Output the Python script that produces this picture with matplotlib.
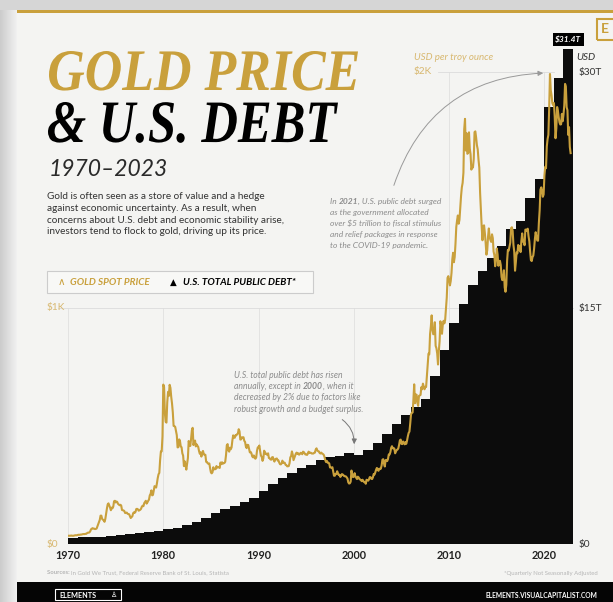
import matplotlib
matplotlib.use("Agg")
import matplotlib.pyplot as plt
import matplotlib.transforms as mtransforms
from matplotlib.patches import Rectangle, FancyArrowPatch, PathPatch
from matplotlib.textpath import TextPath
from matplotlib.font_manager import FontProperties
import numpy as np

# --- datos ---
# precio del oro, promedio mensual en USD por onza (1970 a oct-2022)
oro_mensual = [
    [35, 35, 35, 35, 36, 35, 35, 35, 36, 37, 37, 37],
    [38, 39, 39, 39, 40, 40, 41, 42, 42, 42, 43, 43],
    [46, 48, 48, 49, 54, 62, 65, 67, 65, 65, 63, 64],
    [65, 74, 84, 91, 102, 120, 120, 106, 103, 100, 94, 106],
    [129, 150, 168, 172, 163, 154, 143, 154, 151, 158, 181, 183],
    [176, 180, 178, 170, 167, 164, 166, 163, 144, 143, 142, 139],
    [131, 132, 133, 128, 127, 126, 118, 110, 114, 117, 130, 134],
    [132, 136, 148, 149, 147, 141, 143, 145, 149, 158, 162, 160],
    [173, 178, 183, 171, 176, 183, 188, 206, 212, 227, 206, 208],
    [227, 245, 242, 239, 257, 279, 295, 301, 355, 392, 392, 456],
    [675, 665, 554, 517, 514, 600, 644, 627, 674, 661, 623, 595],
    [557, 500, 499, 496, 479, 461, 409, 410, 443, 437, 413, 410],
    [384, 374, 330, 350, 334, 315, 339, 364, 436, 422, 415, 445],
    [481, 492, 419, 432, 438, 413, 422, 416, 411, 394, 382, 388],
    [370, 386, 394, 381, 377, 378, 348, 347, 341, 340, 341, 320],
    [303, 299, 304, 325, 316, 317, 317, 330, 323, 326, 325, 322],
    [345, 338, 346, 340, 342, 343, 348, 376, 418, 423, 396, 391],
    [408, 401, 409, 438, 460, 450, 450, 461, 460, 465, 468, 486],
    [477, 442, 443, 452, 451, 452, 437, 432, 413, 406, 420, 419],
    [404, 388, 390, 384, 371, 367, 375, 365, 361, 366, 394, 409],
    [410, 417, 393, 374, 369, 352, 362, 395, 389, 381, 382, 377],
    [384, 364, 363, 358, 357, 367, 368, 356, 349, 359, 361, 362],
    [354, 354, 345, 338, 337, 341, 353, 343, 345, 344, 335, 334],
    [329, 329, 330, 342, 367, 372, 392, 379, 355, 364, 374, 383],
    [387, 382, 384, 378, 381, 386, 385, 380, 391, 389, 384, 379],
    [379, 377, 382, 391, 385, 387, 386, 383, 383, 383, 386, 387],
    [400, 405, 396, 393, 392, 385, 383, 387, 383, 381, 378, 369],
    [355, 347, 352, 344, 344, 341, 324, 324, 323, 325, 306, 289],
    [289, 297, 296, 308, 299, 292, 293, 284, 289, 296, 294, 291],
    [287, 287, 286, 282, 277, 261, 256, 257, 264, 311, 293, 283],
    [285, 300, 286, 280, 275, 285, 282, 275, 273, 270, 266, 272],
    [266, 262, 263, 255, 272, 270, 268, 273, 283, 283, 276, 275],
    [282, 296, 294, 303, 314, 322, 314, 310, 319, 317, 319, 333],
    [357, 359, 340, 328, 355, 356, 351, 360, 379, 379, 389, 407],
    [414, 405, 406, 404, 384, 392, 398, 400, 405, 420, 439, 442],
    [424, 423, 434, 429, 422, 431, 424, 438, 456, 470, 476, 510],
    [549, 555, 557, 610, 676, 596, 633, 632, 598, 585, 627, 629],
    [631, 664, 655, 679, 667, 655, 665, 665, 712, 754, 806, 803],
    [889, 922, 968, 909, 888, 889, 939, 839, 829, 806, 760, 816],
    [858, 943, 924, 890, 928, 945, 934, 949, 996, 1043, 1127, 1134],
    [1118, 1095, 1113, 1148, 1205, 1233, 1193, 1215, 1271, 1342, 1370, 1391],
    [1356, 1372, 1424, 1473, 1510, 1529, 1572, 1756, 1800, 1666, 1739, 1652],
    [1656, 1743, 1674, 1650, 1585, 1596, 1594, 1630, 1744, 1747, 1721, 1688],
    [1671, 1627, 1593, 1487, 1414, 1343, 1286, 1347, 1349, 1316, 1275, 1225],
    [1244, 1300, 1336, 1299, 1287, 1279, 1311, 1295, 1238, 1222, 1176, 1200],
    [1251, 1227, 1178, 1198, 1199, 1181, 1131, 1117, 1125, 1159, 1086, 1068],
    [1097, 1199, 1245, 1242, 1260, 1276, 1337, 1341, 1326, 1266, 1238, 1157],
    [1192, 1234, 1231, 1266, 1246, 1260, 1236, 1283, 1315, 1280, 1283, 1265],
    [1331, 1331, 1325, 1335, 1303, 1282, 1238, 1202, 1198, 1215, 1221, 1250],
    [1291, 1320, 1300, 1285, 1284, 1359, 1413, 1500, 1510, 1495, 1470, 1480],
    [1560, 1597, 1591, 1683, 1715, 1732, 1846, 1990, 1921, 1900, 1866, 1858],
    [1867, 1808, 1718, 1760, 1850, 1834, 1807, 1785, 1776, 1777, 1821, 1790],
    [1817, 1856, 1948, 1937, 1849, 1837, 1732, 1765, 1681, 1655],
]

# deuda publica total de EEUU, en billones (trillions) de USD, por año
años_deuda = list(range(1970, 2023))
deuda = [0.389, 0.424, 0.449, 0.469, 0.492, 0.577, 0.653, 0.719, 0.789, 0.845,
         0.930, 1.028, 1.197, 1.410, 1.663, 1.945, 2.214, 2.431, 2.684, 2.953,
         3.365, 3.801, 4.177, 4.536, 4.801, 4.989, 5.323, 5.503, 5.614, 5.776,
         5.662, 5.943, 6.406, 6.998, 7.596, 8.170, 8.680, 9.229, 10.700, 12.311,
         14.025, 15.223, 16.433, 17.352, 18.141, 18.922, 19.977, 20.493, 21.974, 23.201,
         27.748, 29.617, 31.420]

decadas = [1970, 1980, 1990, 2000, 2010, 2020]
deuda_ticks = [0, 15, 30]
deuda_labels = ['$0', '$15T', '$30T']

ORO = '#c9a03c'
ORO_CLARO = '#d8b870'
FONDO = '#f4f4f2'
W, H = 613, 602

def fx(x):
    return x / W

def fy(y):
    return 1 - y / H

fig = plt.figure(figsize=(W / 100, H / 100), dpi=100)
fig.patch.set_facecolor(FONDO)

def rect(x, y, w, h, **kw):
    # rectangulo en pixeles (origen arriba a la izquierda)
    r = Rectangle((fx(x), fy(y + h)), w / W, h / H, transform=fig.transFigure, **kw)
    fig.add_artist(r)

# bordes de la captura (gris a la izquierda y arriba)
for i in range(17):
    g = 0.80 + 0.14 * i / 16
    rect(i, 0, 1.05, H, facecolor=(g, g, g), edgecolor='none', zorder=0)
rect(0, 0, W, 10, facecolor='#d6d6d6', edgecolor='none', zorder=0)
rect(17, 10, W, 3, facecolor=ORO, edgecolor='none', zorder=1)
rect(597, 19, 30, 21, facecolor='none', edgecolor=ORO, lw=1.5, zorder=1)
fig.text(fx(601), fy(29), 'E', color=ORO, fontsize=10, fontweight='bold', va='center',
         family='Lato')

# pie negro
rect(17, 582, W, 20, facecolor='#050505', edgecolor='none', zorder=1)
rect(55, 589, 66, 11, facecolor='none', edgecolor='white', lw=0.8, zorder=2)
fig.text(fx(59), fy(595), 'ELEMENTS', color='white', fontsize=5.2, fontweight='bold',
         va='center', family='Lato')
fig.text(fx(111), fy(595), '♙', color='white', fontsize=5, va='center', family='DejaVu Sans')
fig.text(fx(597), fy(595), 'ELEMENTS.VISUALCAPITALIST.COM', color='white', fontsize=4.8,
         fontweight='bold', va='center', ha='right', family='Lato')

# --- grafico ---
ax = fig.add_axes([fx(68), fy(544), fx(573) - fx(68), fy(48) - fy(544)])
ax.set_xlim(1970, 2023)
ax.set_ylim(0, 2100)
for s in ax.spines.values():
    s.set_visible(False)

ax2 = ax.twinx()
ax2.set_ylim(0, 31.5)
for s in ax2.spines.values():
    s.set_visible(False)

# grilla tenue (detras de la deuda)
for d in decadas:
    alto = 30 if d >= 2010 else 15
    ax2.plot([d, d], [0, alto], color='#e0e0e0', lw=0.6, zorder=1)
ax2.plot([1969, 2023], [15, 15], color='#dcdcdc', lw=0.6, zorder=1, clip_on=False)
ax2.plot([2008.8, 2021], [30, 30], color='#dcdcdc', lw=0.6, zorder=1)

bordes = años_deuda + [2023]
ax2.fill_between(bordes, deuda + [deuda[-1]], step='post', color='#0c0c0c', lw=0, zorder=2)

ax.set_zorder(ax2.get_zorder() + 1)
ax.patch.set_visible(False)

t_oro = []
v_oro = []
for i, fila in enumerate(oro_mensual):
    for m, v in enumerate(fila):
        t_oro.append(1970 + i + m / 12)
        v_oro.append(v)
ax.plot(t_oro, v_oro, color=ORO, lw=1.5, zorder=3, solid_joinstyle='round')

ax.set_xticks(decadas)
ax.set_xticklabels([str(d) for d in decadas], fontsize=7.8, fontweight='bold', color='#222222',
                   family='Lato')
ax.tick_params(axis='x', length=0, pad=4)
ax.set_yticks([])
ax2.set_yticks(deuda_ticks)
ax2.set_yticklabels(deuda_labels, fontsize=7.3, color='#333333', family='Lato')
ax2.tick_params(axis='y', length=0, pad=4)

izq = mtransforms.blended_transform_factory(fig.transFigure, ax.transData)
ax.text(fx(47), 1000, '$1K', transform=izq, color=ORO_CLARO, fontsize=7.3, va='center',
        family='Lato')
ax.text(fx(47), 0, '$0', transform=izq, color=ORO_CLARO, fontsize=7.3, va='center',
        family='Lato')
ax.text(2006.3, 2000, '$2K', color=ORO_CLARO, fontsize=7.3, va='center', family='Lato')
ax.text(2006.3, 2060, 'USD per troy ounce', color=ORO_CLARO, fontsize=7, va='center',
        style='italic', family='Lato')
ax2.text(2023.4, 30.9, 'USD', color='#333333', fontsize=7.3, va='center', style='italic',
         family='Lato')
ax2.text(2022.5, 31.8, '$31.4T', color='white', fontsize=6, fontweight='bold', style='italic',
         ha='center', va='bottom', family='Lato',
         bbox=dict(boxstyle='square,pad=0.3', fc='black', ec='none'))

# --- titulos (texto estirado para imitar la tipografia angosta) ---
fp_titulo = FontProperties(family='Liberation Serif', weight='bold', style='italic')

def titulo(s, x0, x1, arriba, base, color):
    tp = TextPath((0, 0), s, size=100, prop=fp_titulo)
    bb = tp.get_extents()
    sx = (x1 - x0) / bb.width
    sy = (base - arriba) / bb.y1
    tr = mtransforms.Affine2D().translate(-bb.x0, 0).scale(sx, sy).translate(x0, H - base)
    fig.add_artist(PathPatch(tp, transform=tr, facecolor=color, edgecolor='none', zorder=3))

titulo('GOLD PRICE', 49, 358, 51, 90, ORO)
titulo('& U.S. DEBT', 48, 338, 102, 142, 'black')
fig.text(fx(49), fy(176), '1970–2023', color='#2a2a2a', fontsize=16.5, style='italic',
         family='Lato')

fig.text(fx(47), fy(192), 'Gold is often seen as a store of value and a hedge\n'
         'against economic uncertainty. As a result, when\n'
         'concerns about U.S. debt and economic stability arise,\n'
         'investors tend to flock to gold, driving up its price.',
         color='#333333', fontsize=7.2, va='top', linespacing=1.4, family='Lato')

fig.canvas.draw()
rend = fig.canvas.get_renderer()

def renglon(x, y, partes, **kw):
    for s, w in partes:
        t = fig.text(x, y, s, fontweight=w, **kw)
        bb = t.get_window_extent(rend)
        x = bb.x1 / fig.bbox.width

gris = dict(color='#8c8c8c', fontsize=6.0, style='italic', family='Lato', va='center')
lineas_2021 = [[('In ', 'normal'), ('2021', 'bold'), (', U.S. public debt surged', 'normal')],
               [('as the government allocated', 'normal')],
               [('over $5 trillion to fiscal stimulus', 'normal')],
               [('and relief packages in response', 'normal')],
               [('to the COVID-19 pandemic.', 'normal')]]
for i, l in enumerate(lineas_2021):
    renglon(fx(330), fy(201 + 11 * i), l, **gris)

gris2 = dict(gris, fontsize=6.2)
lineas_2000 = [[('U.S. total public debt has risen', 'normal')],
               [('annually, except in ', 'normal'), ('2000', 'bold'), (', when it', 'normal')],
               [('decreased by 2% due to factors like', 'normal')],
               [('robust growth and a budget surplus.', 'normal')]]
for i, l in enumerate(lineas_2000):
    renglon(fx(234), fy(375 + 11.5 * i), l, **gris2)

# leyenda
rect(47, 271, 266, 22, facecolor='#f8f8f6', edgecolor='#cccccc', lw=0.8, zorder=1)
fig.text(fx(58), fy(282), '∧', color=ORO, fontsize=7.5, va='center', family=['Lato', 'DejaVu Sans'])
fig.text(fx(70), fy(282), 'GOLD SPOT PRICE', color=ORO, fontsize=7.1, fontweight='bold',
         style='italic', va='center', family='Lato')
fig.text(fx(170), fy(282), '▲', color='black', fontsize=6.3, va='center', family='DejaVu Sans')
fig.text(fx(183), fy(282), 'U.S. TOTAL PUBLIC DEBT*', color='black', fontsize=7.1,
         fontweight='bold', style='italic', va='center', family='Lato')

# flechas
fig.add_artist(FancyArrowPatch((fx(393), fy(188)), (fx(546), fy(73)), transform=fig.transFigure,
                               connectionstyle='arc3,rad=-0.35', arrowstyle='-|>,head_length=3,head_width=1.5',
                               color='#999999', lw=0.7, zorder=5))
fig.add_artist(FancyArrowPatch((fx(340), fy(418)), (fx(354), fy(447)), transform=fig.transFigure,
                               connectionstyle='arc3,rad=-0.3', arrowstyle='-|>,head_length=3,head_width=1.5',
                               color='#777777', lw=0.7, zorder=5))

# fuentes
renglon(fx(47), fy(573), [('Sources: ', 'bold'),
                          ('In Gold We Trust, Federal Reserve Bank of St. Louis, Statista', 'normal')],
        color='#b5b5b5', fontsize=4.3, va='center', family='Lato')
fig.text(fx(598), fy(573), '*Quarterly Not Seasonally Adjusted', color='#b5b5b5', fontsize=4.3,
         ha='right', va='center', family='Lato')

fig.savefig('out.png', dpi=100, facecolor=fig.get_facecolor())
